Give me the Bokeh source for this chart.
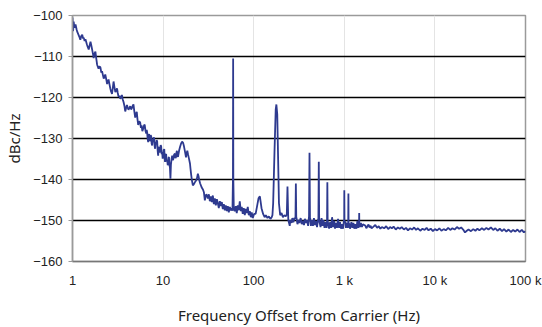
from bokeh.plotting import figure
from bokeh.models import FixedTicker, CustomJSTickFormatter, Range1d
from bokeh.embed import file_html
from bokeh.resources import INLINE

# ---- data ----
freq_low = [1.00, 1.015, 1.03, 1.05, 1.08, 1.11, 1.13, 1.16, 1.19, 1.22, 1.25, 1.28, 1.31, 1.33, 1.36, 1.39,
            1.44, 1.47, 1.51, 1.55, 1.58, 1.62, 1.65, 1.69, 1.71, 1.75, 1.79, 1.83, 1.87, 1.94, 1.98, 2.03,
            2.08, 2.12, 2.17, 2.21, 2.26, 2.30, 2.36, 2.41, 2.46, 2.50, 2.56, 2.62, 2.67, 2.73, 2.79, 2.84,
            2.90, 2.97, 3.03, 3.10, 3.16, 3.22, 3.30, 3.37, 3.44, 3.51, 3.58, 3.66, 3.74, 3.82, 3.90, 3.99,
            4.07, 4.15, 4.25, 4.34, 4.43, 4.52, 4.62, 4.71, 4.80, 4.92, 5.02, 5.12, 5.21, 5.31, 5.45, 5.59,
            5.69, 5.79, 5.90, 6.03, 6.15, 6.26, 6.40, 6.51, 6.59, 6.67, 6.76, 6.85, 6.94, 7.03, 7.12, 7.20,
            7.29, 7.39, 7.48, 7.58, 7.67, 7.77, 7.87, 7.97, 8.07, 8.17, 8.28, 8.39, 8.49, 8.60, 8.71, 8.82,
            8.93, 9.05, 9.16, 9.28, 9.40, 9.52, 9.64, 9.77, 9.89, 10.0, 10.15, 10.3, 10.4, 10.5, 10.65, 10.8,
            10.95, 11.1, 11.25, 11.4, 11.5, 11.6, 11.75, 11.9, 12.05, 12.2, 12.4, 12.6, 12.8, 13.0, 13.25, 13.5,
            13.7, 13.9, 14.05, 14.2, 14.4, 14.6, 15.0, 15.4, 15.8, 16.2, 16.6, 17.0, 17.4, 17.9, 18.2, 18.5,
            18.9, 19.3, 19.8, 20.1, 20.4, 20.8, 21.3, 21.8, 22.4, 23.0, 23.6, 24.2, 24.6, 25.1, 25.6, 26.1,
            26.6, 27.1, 27.6, 28.2, 28.9, 29.4, 30.0, 30.6, 31.2, 32.0, 32.8, 33.6, 34.5, 35.4, 36.3, 37.2,
            38.2, 39.2, 40.2, 41.2, 42.3, 43.4, 44.5, 45.6, 46.8, 48.0, 49.2, 50.5, 51.8, 53.1, 54.5, 55.9,
            57.3, 58.3, 59.0, 59.3, 59.6, 60.3]
dbc_low = [-100.5, -103.8, -101.5, -103.0, -102.2, -103.4, -104.0, -104.6, -105.2, -105.9, -105.0, -104.7, -105.6, -105.4, -106.2, -105.8,
           -107.0, -107.6, -108.3, -107.2, -106.4, -107.5, -108.4, -109.6, -110.4, -109.3, -108.8, -110.5, -112.0, -113.0, -112.4, -112.6,
           -113.9, -113.6, -114.6, -115.4, -114.8, -114.4, -115.6, -116.7, -116.0, -115.6, -116.8, -117.9, -118.6, -119.1, -117.5, -116.1,
           -117.4, -118.7, -118.3, -117.8, -118.9, -119.8, -119.6, -120.3, -119.9, -119.4, -120.4, -121.1, -122.0, -123.4, -122.6, -121.8,
           -122.5, -123.0, -122.5, -122.1, -122.9, -122.6, -122.0, -121.7, -123.2, -124.9, -124.0, -123.5, -125.2, -126.7, -125.8, -126.1,
           -127.4, -126.8, -128.2, -127.6, -126.9, -126.6, -128.2, -128.8, -127.9, -128.5, -130.2, -130.9, -129.3, -128.9, -130.6, -130.4,
           -129.2, -129.5, -131.3, -131.7, -130.2, -130.9, -129.7, -130.0, -131.9, -132.5, -130.9, -131.2, -130.4, -130.7, -133.0, -134.2,
           -132.3, -132.1, -133.4, -133.0, -131.6, -131.9, -133.8, -133.3, -134.9, -134.5, -132.8, -132.6, -134.8, -135.7, -134.0, -133.8,
           -135.6, -135.2, -136.5, -136.1, -134.7, -134.5, -136.4, -137.1, -139.8, -136.4, -135.0, -134.2, -135.3, -134.9, -133.9, -133.7,
           -134.8, -134.5, -133.4, -133.0, -134.2, -134.5, -133.0, -132.0, -131.2, -130.8, -131.0, -131.9, -133.1, -134.6, -133.6, -133.0,
           -134.0, -134.9, -136.1, -137.5, -138.8, -140.2, -141.4, -141.2, -140.7, -140.3, -139.8, -138.6, -139.2, -140.2, -140.9, -141.4,
           -141.9, -142.2, -142.5, -143.1, -145.1, -144.2, -143.6, -144.0, -144.6, -143.6, -145.3, -144.1, -145.5, -143.9, -146.0, -144.6,
           -146.3, -144.8, -145.8, -147.0, -145.3, -146.5, -145.5, -147.2, -146.0, -147.5, -146.3, -147.7, -146.5, -148.0, -146.7, -147.5,
           -147.0, -147.6, -140.0, -110.5, -140.0, -147.2]

freq_mid = [61.8, 63.4, 65.0, 66.7, 68.4, 70.2, 72.0, 73.8, 75.7, 77.7, 79.7, 81.8, 83.9, 86.0, 88.3, 90.5,
            92.9, 95.2, 97.7, 101, 105, 109, 113, 117, 119, 122, 127, 132, 136, 142, 147, 153,
            158, 161, 164, 170, 175, 178, 182, 186, 190, 196, 203, 210, 218, 226, 232, 236, 240, 241,
            250, 253, 262, 267, 274, 282, 289, 292, 295, 297, 304, 313, 319, 330, 339, 346, 359, 367,
            378, 388, 399, 408, 413, 418, 420, 428, 439, 451, 462, 475, 486, 500, 512, 518, 523, 528,
            533, 547, 561, 576, 589, 605, 620, 637, 645, 650, 655, 665, 680, 697, 716, 733, 753, 772,
            790, 812, 831, 853, 875, 897, 920, 943, 968, 992, 997, 1000, 1005, 1030, 1043, 1071, 1097, 1105,
            1110, 1115, 1140, 1155, 1198, 1227, 1260, 1290, 1326, 1360, 1395, 1430, 1455, 1460, 1465, 1490,
            1525, 1565, 1605]
dbc_mid = [-147.7, -146.5, -148.2, -146.3, -147.5, -145.3, -147.7, -146.7, -148.4, -147.0, -148.7, -147.2, -148.2, -146.7, -148.7, -147.7,
           -149.2, -148.0, -149.4, -148.4, -148.4, -146.5, -144.6, -144.1, -145.3, -147.0, -148.4, -149.2, -148.7, -149.4, -149.0, -149.6,
           -149.2, -148.7, -145.8, -132.5, -122.9, -121.7, -124.1, -134.9, -145.8, -148.7, -148.2, -149.2, -148.7, -149.0, -148.5, -141.7, -148.7, -149.9,
           -151.3, -149.9, -150.6, -149.4, -150.4, -149.4, -149.6, -141.0, -149.2, -149.4, -150.9, -149.9, -150.6, -149.4, -150.9, -150.1, -151.1, -149.6,
           -150.6, -149.9, -151.3, -149.0, -133.5, -149.4, -149.4, -151.3, -149.9, -151.3, -149.4, -151.1, -150.1, -151.6, -149.9, -149.5, -135.7, -149.8,
           -150.4, -151.6, -149.4, -151.3, -149.9, -151.8, -150.4, -151.8, -150.2, -140.7, -150.0, -150.9, -152.0, -150.4, -151.8, -149.2, -151.6, -150.1,
           -152.0, -150.6, -151.8, -149.6, -151.8, -150.4, -152.0, -150.9, -152.0, -149.9, -150.2, -142.6, -150.3, -150.4, -151.8, -150.6, -151.8, -150.5,
           -143.4, -150.6, -150.9, -152.0, -150.4, -151.8, -150.6, -152.0, -150.9, -152.0, -150.1, -151.8, -151.0, -148.2, -151.0, -151.6,
           -150.6, -151.6, -150.9]

freq_high = [1700, 1750, 1800, 1850, 1900, 1950, 2000, 2100, 2200, 2300, 2400, 2500, 2600, 2750, 2900, 3050,
             3200, 3350, 3500, 3700, 3900, 4100, 4300, 4550, 4800, 5050, 5300, 5600, 5900, 6200, 6500, 6900,
             7300, 7700, 8100, 8500, 9000, 9500, 10000, 10600, 11200, 11800, 12500, 13200, 14000, 14800, 15600, 16500,
             17500, 18500, 19500, 20500, 21500, 22500, 23500, 25000, 26500, 28000, 29500, 31000, 33000, 35000, 37000, 39000,
             41500, 44000, 46500, 49000, 52000, 55000, 58000, 61500, 65000, 69000, 73000, 77000, 81500, 86000, 91000, 96000,
             100000]
dbc_high = [-151.2, -151.9, -151.4, -151.0, -151.7, -151.3, -151.9, -151.5, -151.1, -151.8, -151.4, -152.0, -151.6, -151.9, -151.4, -152.1,
            -151.6, -151.9, -151.5, -152.2, -151.7, -152.0, -151.6, -152.2, -151.8, -152.4, -151.9, -152.2, -151.7, -152.3, -151.9, -152.5,
            -152.0, -152.3, -151.8, -152.4, -152.0, -152.6, -152.1, -152.4, -151.9, -152.5, -152.1, -152.4, -151.8, -152.3, -151.9, -152.2,
            -151.6, -152.0, -151.7, -152.2, -152.9, -152.5, -152.2, -152.6, -152.1, -152.5, -152.0, -152.4, -151.9, -152.3, -151.8, -152.2,
            -151.7, -152.3, -151.9, -152.5, -152.0, -152.6, -152.1, -152.7, -152.2, -152.8, -152.3, -152.7, -152.2, -152.8, -152.3, -152.9,
            -152.6]

x_ticks = [1, 10, 100, 1000, 10000, 100000]
y_ticks = [-160, -150, -140, -130, -120, -110, -100]
y_grid_ticks = [-150, -140, -130, -120, -110]

freq = freq_low + freq_mid + freq_high
dbc = dbc_low + dbc_mid + dbc_high

p = figure(width=542, height=327, x_axis_type="log",
           x_range=Range1d(1, 100000), y_range=Range1d(-160, -100),
           output_backend="svg", toolbar_location=None,
           min_border_left=72, min_border_right=17, min_border_top=15, min_border_bottom=63)

p.line(freq, dbc, line_color="#2e3a8f", line_width=1.8)

p.background_fill_color = "white"
p.border_fill_color = "white"
p.outline_line_color = "#9a9a9a"
p.outline_line_width = 1.5

p.xaxis.ticker = FixedTicker(ticks=x_ticks)
p.xaxis.formatter = CustomJSTickFormatter(
    code="return tick >= 1000 ? (tick/1000).toFixed(0) + ' k' : tick.toFixed(0);")
p.yaxis.ticker = FixedTicker(ticks=y_ticks)

p.xgrid.ticker = FixedTicker(ticks=x_ticks)
p.xgrid.grid_line_color = "#e4e4e4"
p.xgrid.grid_line_width = 1
p.ygrid.ticker = FixedTicker(ticks=y_grid_ticks)
p.ygrid.grid_line_color = "black"
p.ygrid.grid_line_width = 1.3

for ax in (p.xaxis, p.yaxis):
    ax.minor_tick_line_color = None
    ax.major_label_text_font = "Liberation Sans"
    ax.major_label_text_font_size = "13px"
    ax.major_label_text_color = "#222222"
    ax.axis_label_text_font = "Noto Sans"
    ax.axis_label_text_font_size = "15px"
    ax.axis_label_text_font_style = "normal"
    ax.axis_label_text_color = "#222222"

p.xaxis.axis_line_color = "#777777"
p.xaxis.axis_line_width = 1.5
p.xaxis.major_tick_line_color = None
p.xaxis.major_tick_out = 0
p.xaxis.major_label_standoff = 11
p.xaxis.axis_label = "Frequency Offset from Carrier (Hz)"
p.xaxis.axis_label_standoff = 14

p.yaxis.axis_line_color = "#9a9a9a"
p.yaxis.axis_line_width = 1.5
p.yaxis.major_tick_line_color = "#9a9a9a"
p.yaxis.major_tick_out = 4
p.yaxis.major_tick_in = 0
p.yaxis.major_label_standoff = 6
p.yaxis.axis_label = "dBc/Hz"
p.yaxis.axis_label_standoff = 6

open("out.html", "w").write(file_html(p, INLINE))
